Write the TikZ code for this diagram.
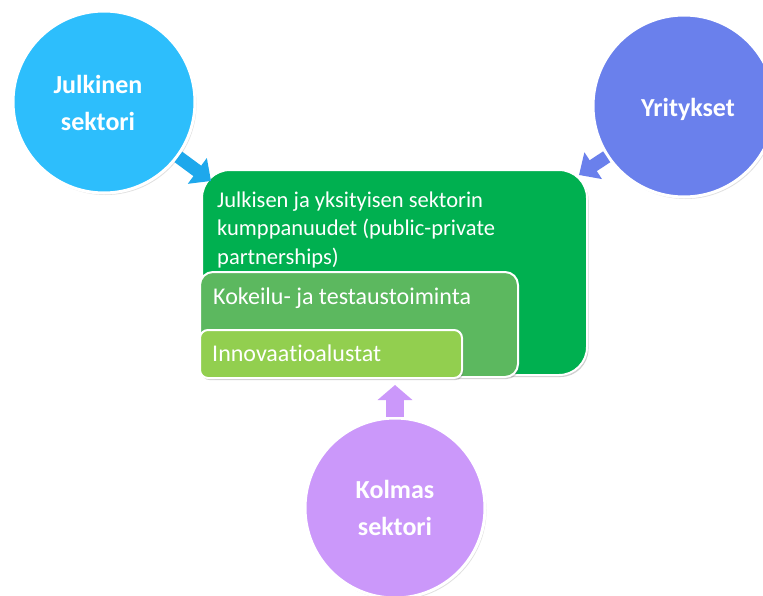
\documentclass[tikz,border=0pt]{standalone}
\usepackage{fontspec}
\setmainfont{Carlito}[Ligatures=NoCommon]
\usetikzlibrary{arrows.meta,shadows}
\definecolor{cblue}{HTML}{2DBEFC}
\definecolor{cbluearr}{HTML}{1EA8EC}
\definecolor{cindigo}{HTML}{6A80EC}
\definecolor{cpurple}{HTML}{CB98FA}
\definecolor{gbig}{HTML}{00B050}
\definecolor{gmid}{HTML}{5CB85F}
\definecolor{glight}{HTML}{92CF4F}
\begin{document}
\begin{tikzpicture}[x=1pt,y=-1pt,
  sector/.style={circle, draw=white, line width=3pt, minimum size=182pt, inner sep=0pt,
    text=white, font=\bfseries\fontsize{26}{37}\selectfont, align=center,
    drop shadow={shadow xshift=1.5pt, shadow yshift=-2pt, opacity=0.2, fill=black!60}},
  greenbox/.style={draw=white, line width=2pt, inner sep=0pt,
    drop shadow={shadow xshift=1.5pt, shadow yshift=-2pt, opacity=0.3, fill=black!60}},
  boxtext/.style={text=white, font=\fontsize{22.5}{28.5}\selectfont, inner sep=0pt, anchor=base west},
  smalltext/.style={text=white, font=\fontsize{24}{28.5}\selectfont, inner sep=0pt, anchor=west},
  blockarrow/.style={line width=13pt, -{Triangle[length=17pt,width=31pt]}}
]
\useasboundingbox (0,0) rectangle (763,595);
\fill[white] (0,0) rectangle (763,595);

% central boxes
\node[greenbox, fill=gbig, rounded corners=28pt, minimum width=385pt, minimum height=205pt] (ppp) at (394.5,272.5) {};
\node[greenbox, fill=gmid, rounded corners=13pt, minimum width=318pt, minimum height=105pt] (koke) at (359,324.5) {};
\node[greenbox, fill=glight, rounded corners=8pt, minimum width=262pt, minimum height=48pt] (inno) at (331,354) {};

\node[boxtext] (ppp1) at (217,207) {Julkisen ja yksityisen sektorin};
\node[boxtext] (ppp2) at (217,235.5) {kumppanuudet (public-private};
\node[boxtext] (ppp3) at (217,264) {partnerships)};
\node[smalltext] (koketext) at (213,298) {Kokeilu- ja testaustoiminta};
\node[smalltext] (innotext) at (212,353) {Innovaatioalustat};

% circles
\node[sector, fill=cblue] (jul) at (104,102) {};
\node[text=white, font=\bfseries\fontsize{26}{37}\selectfont, align=center] (jultext) at (98,103) {Julkinen\\sektori};
\node[sector, fill=cindigo] (yri) at (684,106) {};
\node[text=white, font=\bfseries\fontsize{26}{37}\selectfont] (yritext) at (688,109) {Yritykset};
\node[sector, fill=cpurple, minimum size=180pt] (kol) at (395,508) {Kolmas\\sektori};

% arrows
\coordinate (jtip) at (211,181);
\coordinate (ytip) at (579,175);
\coordinate (ktip) at (395,385);
\draw[blockarrow, cbluearr] (jul) -- (jtip);
\draw[blockarrow, cindigo] (yri) -- (ytip);
\draw[blockarrow, cpurple, line width=18pt, -{Triangle[length=15pt,width=34pt]}] (kol) -- (ktip);
\end{tikzpicture}
\end{document}
